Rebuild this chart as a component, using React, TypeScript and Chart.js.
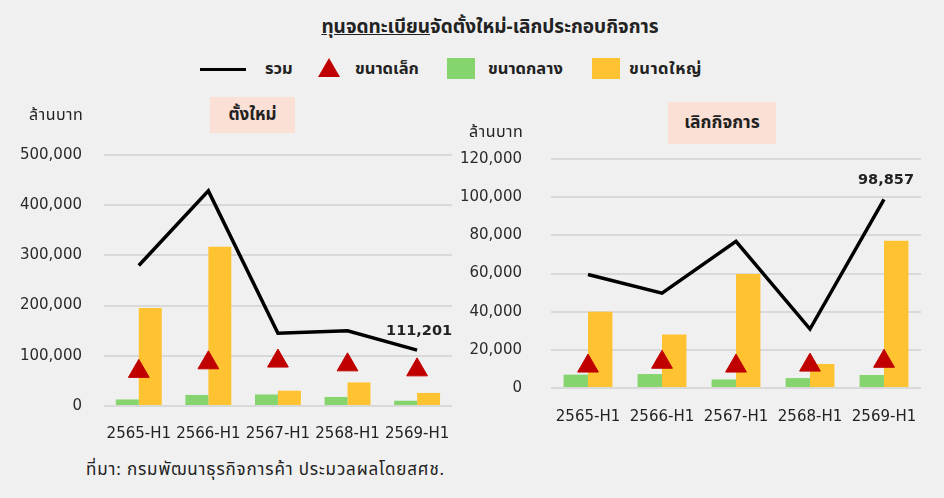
import React, { useEffect, useRef } from "react";
import { Chart, registerables } from "chart.js";

Chart.register(...registerables);

const categories = ["2565-H1", "2566-H1", "2567-H1", "2568-H1", "2569-H1"];

// ตั้งใหม่ (ล้านบาท)
const newTotal = [280000, 428500, 145000, 150000, 111201];
const newSmall = [69000, 86000, 89500, 82000, 72000];
const newMedium = [13000, 22000, 23000, 18000, 10500];
const newLarge = [195000, 317000, 30500, 47000, 26000];

// เลิกกิจการ (ล้านบาท)
const closeTotal = [59500, 49700, 76900, 30900, 98857];
const closeSmall = [11500, 13500, 11500, 12000, 14000];
const closeMedium = [7000, 7300, 4500, 5200, 6800];
const closeLarge = [40000, 28000, 59800, 12600, 77100];

const leftTicksMax = 500000;
const leftStep = 100000;
const rightTicksMax = 120000;
const rightStep = 20000;

const FONT = "'DejaVu Sans', 'Noto Sans Thai', 'Noto Sans', sans-serif";
const THAI = "Tahoma, 'Noto Sans Thai', 'Noto Sans', 'DejaVu Sans', sans-serif";
const BG = "#f0f0f0";
const RED = "#c00000";
const GREEN = "#86d46e";
const YELLOW = "#ffc230";

const fmt = (v: number) => Math.round(v).toLocaleString("en-US");

const lastLabelPlugin = {
  id: "lastLabel",
  afterDatasetsDraw(chart: any) {
    const meta = chart.getDatasetMeta(0);
    const ds = chart.data.datasets[0];
    const pts = meta.data;
    if (!pts || !pts.length) return;
    const p = pts[pts.length - 1];
    const v = ds.data[ds.data.length - 1];
    const ctx = chart.ctx;
    ctx.save();
    ctx.font = "bold 14.5px " + FONT;
    ctx.fillStyle = "#222";
    ctx.textAlign = "center";
    ctx.textBaseline = "middle";
    ctx.fillText(fmt(v), p.x + 2, p.y - 19);
    ctx.restore();
  },
};

type Cfg = {
  total: number[];
  small: number[];
  medium: number[];
  large: number[];
  max: number;
  step: number;
  pad: { top: number; right: number };
  yWidth: number;
  xHeight: number;
  yPad: number;
  xPad: number;
};

function Panel({ cfg, style }: { cfg: Cfg; style: React.CSSProperties }) {
  const ref = useRef<HTMLCanvasElement>(null);
  useEffect(() => {
    if (!ref.current) return;
    const chart = new Chart(ref.current, {
      data: {
        labels: categories,
        datasets: [
          {
            type: "line",
            label: "รวม",
            data: cfg.total,
            borderColor: "#000",
            borderWidth: 3.5,
            pointRadius: 0,
            tension: 0,
            order: 0,
          } as any,
          {
            type: "line",
            label: "ขนาดเล็ก",
            data: cfg.small,
            showLine: false,
            pointStyle: "triangle",
            pointRadius: 12,
            pointBackgroundColor: RED,
            pointBorderColor: RED,
            borderColor: RED,
            backgroundColor: RED,
            order: 1,
          } as any,
          {
            type: "bar",
            label: "ขนาดกลาง",
            data: cfg.medium,
            backgroundColor: GREEN,
            categoryPercentage: 0.66,
            barPercentage: 1,
            order: 2,
          },
          {
            type: "bar",
            label: "ขนาดใหญ่",
            data: cfg.large,
            backgroundColor: YELLOW,
            categoryPercentage: 0.66,
            barPercentage: 1,
            order: 3,
          },
        ],
      },
      options: {
        animation: false,
        responsive: false,
        maintainAspectRatio: false,
        layout: { padding: { top: cfg.pad.top, right: cfg.pad.right, left: 0, bottom: 0 } },
        plugins: { legend: { display: false }, tooltip: { enabled: false }, title: { display: false } },
        scales: {
          x: {
            grid: { display: false, drawTicks: false },
            border: { display: false },
            ticks: { color: "#222", font: { family: FONT, size: 15 }, padding: cfg.xPad, maxRotation: 0 },
            afterFit: (s: any) => {
              s.height = cfg.xHeight;
            },
          },
          y: {
            min: 0,
            max: cfg.max,
            grid: { color: "#d9d9d9", lineWidth: 2, drawTicks: false },
            border: { display: false },
            ticks: {
              stepSize: cfg.step,
              color: "#2a2a2a",
              font: { family: FONT, size: 15 },
              padding: cfg.yPad,
              callback: (v: any) => fmt(Number(v)),
            },
            afterFit: (s: any) => {
              s.width = cfg.yWidth;
            },
          },
        },
      } as any,
      plugins: [lastLabelPlugin],
    });
    return () => chart.destroy();
  }, []);
  const w = style.width as number;
  const h = style.height as number;
  return (
    <div style={{ position: "absolute", ...style }}>
      <canvas ref={ref} width={w} height={h} style={{ width: w, height: h, display: "block" }} />
    </div>
  );
}

const leftCfg: Cfg = {
  total: newTotal,
  small: newSmall,
  medium: newMedium,
  large: newLarge,
  max: leftTicksMax,
  step: leftStep,
  pad: { top: 0, right: 17 },
  yWidth: 104,
  xHeight: 44,
  yPad: 22,
  xPad: 19,
};

const rightCfg: Cfg = {
  total: closeTotal,
  small: closeSmall,
  medium: closeMedium,
  large: closeLarge,
  max: rightTicksMax,
  step: rightStep,
  pad: { top: 0, right: 23 },
  yWidth: 111,
  xHeight: 51,
  yPad: 29,
  xPad: 20,
};

const txt = (s: React.CSSProperties): React.CSSProperties => ({
  position: "absolute",
  fontFamily: THAI,
  color: "#222",
  whiteSpace: "nowrap",
  lineHeight: 1,
  ...s,
});

export default function App() {
  return (
    <div
      style={{
        position: "fixed",
        left: 0,
        top: 0,
        width: 944,
        height: 498,
        background: BG,
        overflow: "hidden",
      }}
    >
      {/* Title */}
      <div style={txt({ left: 0, width: 980, top: 18, textAlign: "center", fontSize: 19, fontWeight: "bold" })}>
        <span style={{ textDecoration: "underline" }}>ทุนจดทะเบียน</span>จัดตั้งใหม่-เลิกประกอบกิจการ
      </div>

      {/* Legend */}
      <div style={{ position: "absolute", left: 200, top: 68, width: 46, height: 3, background: "#000" }} />
      <div style={txt({ left: 265, top: 61, fontSize: 16.5, fontWeight: "bold" })}>รวม</div>
      <div
        style={{
          position: "absolute",
          left: 318,
          top: 58,
          width: 0,
          height: 0,
          borderLeft: "11px solid transparent",
          borderRight: "11px solid transparent",
          borderBottom: "19px solid " + RED,
        }}
      />
      <div style={txt({ left: 355, top: 61, fontSize: 16.5, fontWeight: "bold" })}>ขนาดเล็ก</div>
      <div style={{ position: "absolute", left: 447, top: 58, width: 28, height: 21, background: GREEN }} />
      <div style={txt({ left: 488, top: 61, fontSize: 16.5, fontWeight: "bold" })}>ขนาดกลาง</div>
      <div style={{ position: "absolute", left: 592, top: 58, width: 28, height: 21, background: YELLOW }} />
      <div style={txt({ left: 629, top: 61, fontSize: 16.5, fontWeight: "bold", letterSpacing: 0.5 })}>ขนาดใหญ่</div>

      {/* Panels */}
      <Panel cfg={leftCfg} style={{ left: 0, top: 124, width: 470, height: 326 }} />
      <Panel cfg={rightCfg} style={{ left: 440, top: 121, width: 504, height: 318 }} />

      {/* Sub-titles */}
      <div
        style={txt({
          left: 210,
          top: 97,
          width: 85,
          height: 36,
          background: "#fbe0d5",
          display: "flex",
          alignItems: "center",
          justifyContent: "center",
          fontSize: 17,
          fontWeight: "bold",
        })}
      >
        ตั้งใหม่
      </div>
      <div
        style={txt({
          left: 668,
          top: 102,
          width: 108,
          height: 42,
          background: "#fbe0d5",
          display: "flex",
          alignItems: "center",
          justifyContent: "center",
          fontSize: 17.5,
          fontWeight: "bold",
        })}
      >
        เลิกกิจการ
      </div>

      {/* Units */}
      <div style={txt({ left: 29, top: 107, fontSize: 16, letterSpacing: 0.5 })}>ล้านบาท</div>
      <div style={txt({ left: 469, top: 124, fontSize: 16, letterSpacing: 0.5 })}>ล้านบาท</div>

      {/* Source */}
      <div style={txt({ left: 86, top: 462, fontSize: 17, letterSpacing: 0.85 })}>
        ที่มา: กรมพัฒนาธุรกิจการค้า ประมวลผลโดยสศช.
      </div>
    </div>
  );
}
